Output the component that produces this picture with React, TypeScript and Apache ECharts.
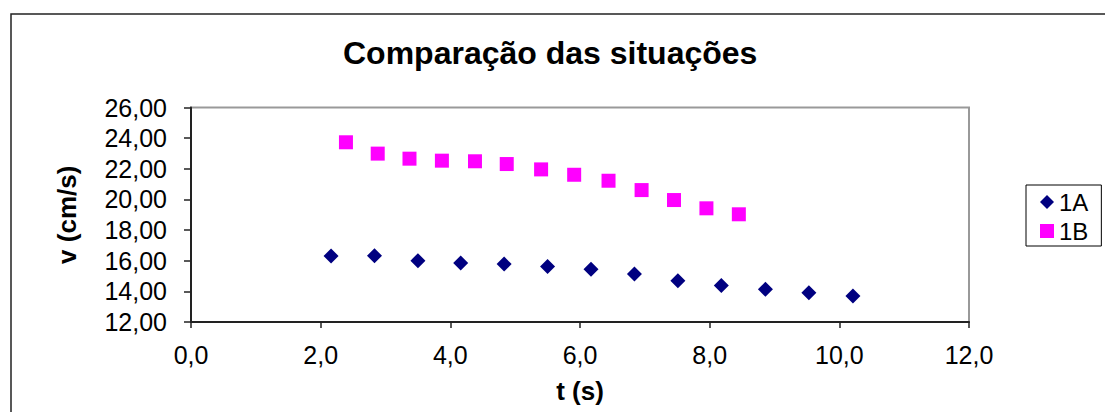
import React, { useEffect, useRef } from "react";
import * as echarts from "echarts";

const seriesNames = ["1A", "1B"];
const tA = [2.16, 2.83, 3.5, 4.16, 4.83, 5.5, 6.17, 6.84, 7.51, 8.18, 8.86, 9.53, 10.21];
const vA = [16.31, 16.33, 16.0, 15.85, 15.78, 15.63, 15.44, 15.13, 14.7, 14.39, 14.13, 13.91, 13.7];
const tB = [2.39, 2.88, 3.37, 3.87, 4.38, 4.87, 5.4, 5.91, 6.44, 6.95, 7.45, 7.95, 8.45];
const vB = [23.73, 22.99, 22.66, 22.53, 22.49, 22.31, 21.96, 21.61, 21.22, 20.61, 19.96, 19.42, 19.03];

const titleText = "Comparação das situações";
const xName = "t (s)";
const yName = "v (cm/s)";

export default function App() {
  const ref = useRef<HTMLDivElement>(null);
  useEffect(() => {
    if (!ref.current) return;
    const chart = echarts.init(ref.current, undefined, { renderer: "svg" });
    const font = "Arial, 'Liberation Sans', sans-serif";
    chart.setOption({
      animation: false,
      backgroundColor: "#ffffff",
      textStyle: { fontFamily: font },
      title: {
        text: titleText,
        left: 343,
        top: 37,
        padding: 0,
        textStyle: { fontSize: 32, fontWeight: "bold", color: "#000", fontFamily: font },
      },
      graphic: [
        {
          type: "rect",
          shape: { x: 11, y: 14, width: 1200, height: 500 },
          style: { fill: "none", stroke: "#222", lineWidth: 1.5 },
          silent: true,
        },
      ],
      legend: {
        orient: "vertical",
        left: 1026,
        top: 185,
        padding: [5, 13, 3, 14],
        itemGap: 5,
        itemWidth: 14,
        itemHeight: 14,
        borderColor: "#000",
        borderWidth: 1,
        textStyle: { fontSize: 24, color: "#000", fontFamily: font },
        data: seriesNames,
      },
      grid: {
        left: 191,
        top: 107.5,
        width: 778,
        height: 214.5,
        show: true,
        borderColor: "#999",
        borderWidth: 2,
        backgroundColor: "transparent",
      },
      xAxis: {
        type: "value",
        min: 0,
        max: 12,
        interval: 2,
        name: xName,
        nameLocation: "middle",
        nameGap: 56,
        nameTextStyle: { fontSize: 26, fontWeight: "bold", color: "#000", fontFamily: font },
        axisLine: { show: true, lineStyle: { color: "#222", width: 2 } },
        axisTick: { show: true, inside: false, length: 6, lineStyle: { color: "#222", width: 1.5 } },
        axisLabel: {
          fontSize: 25,
          color: "#000",
          margin: 20,
          fontFamily: font,
          formatter: (v: number) => v.toFixed(1).replace(".", ","),
        },
        splitLine: { show: false },
      },
      yAxis: {
        type: "value",
        min: 12,
        max: 26,
        interval: 2,
        name: yName,
        nameLocation: "middle",
        nameRotate: 90,
        nameGap: 111,
        nameTextStyle: { fontSize: 26, fontWeight: "bold", color: "#000", fontFamily: font },
        axisLine: { show: true, lineStyle: { color: "#222", width: 2 } },
        axisTick: { show: true, inside: false, length: 7, lineStyle: { color: "#222", width: 1.5 } },
        axisLabel: {
          fontSize: 25,
          color: "#000",
          margin: 24,
          fontFamily: font,
          formatter: (v: number) => v.toFixed(2).replace(".", ","),
        },
        splitLine: { show: false },
      },
      series: [
        {
          name: seriesNames[0],
          type: "scatter",
          symbol: "diamond",
          symbolSize: 15,
          itemStyle: { color: "#000080", opacity: 1 },
          data: tA.map((t, i) => [t, vA[i]]),
        },
        {
          name: seriesNames[1],
          type: "scatter",
          symbol: "rect",
          symbolSize: 14,
          itemStyle: { color: "#FF00FF", opacity: 1 },
          data: tB.map((t, i) => [t, vB[i]]),
        },
      ],
    });
    return () => chart.dispose();
  }, []);
  return (
    <div
      ref={ref}
      style={{ position: "fixed", left: 0, top: 0, width: 1105, height: 412 }}
    />
  );
}
